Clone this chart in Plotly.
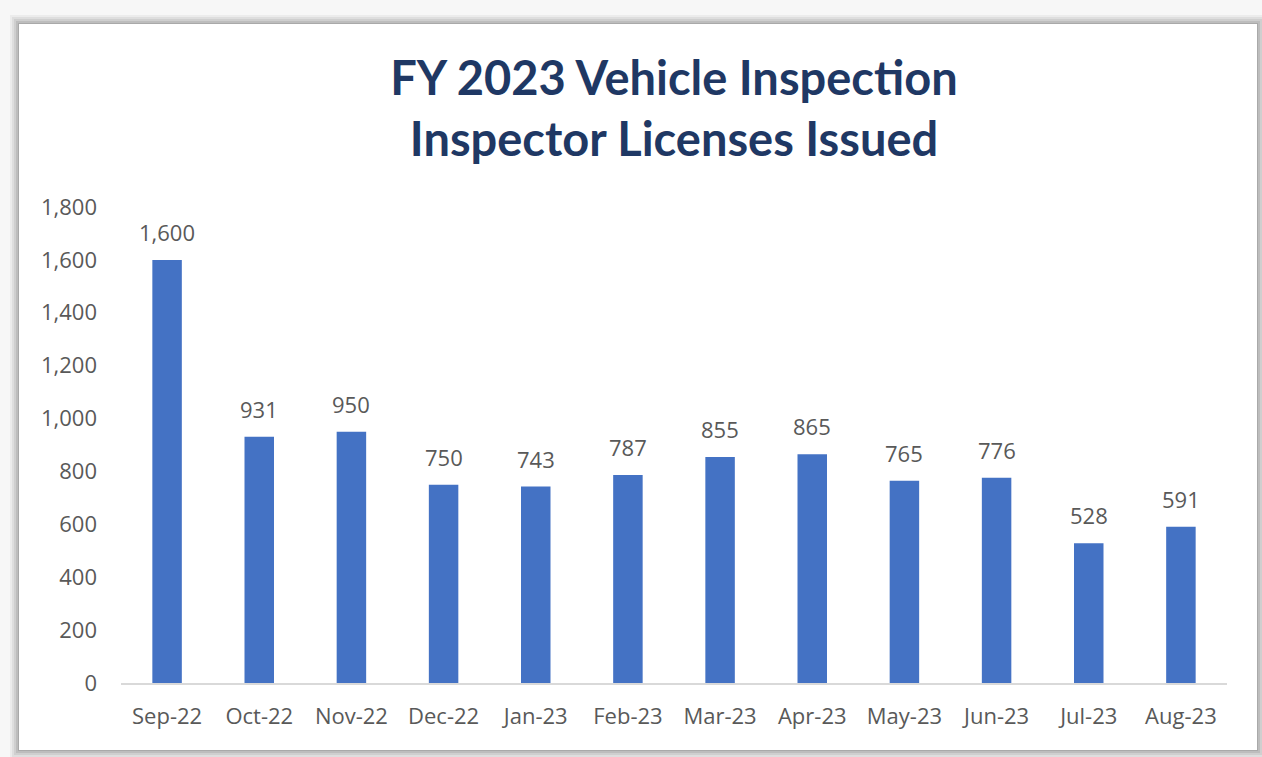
import plotly.graph_objects as go

months = ["Sep-22", "Oct-22", "Nov-22", "Dec-22", "Jan-23", "Feb-23",
          "Mar-23", "Apr-23", "May-23", "Jun-23", "Jul-23", "Aug-23"]
licenses = [1600, 931, 950, 750, 743, 787, 855, 865, 765, 776, 528, 591]
y_ticks = [0, 200, 400, 600, 800, 1000, 1200, 1400, 1600, 1800]

W, H = 1262, 757
L, R, T, B = 121, 35, 207, 74
pw, ph = W - L - R, H - T - B
FONT = "Open Sans, sans-serif"
TFONT = "Lato, Open Sans, sans-serif"


def px(x):
    return (x - L) / pw


def py(y):
    return (H - B - y) / ph


fig = go.Figure()
fig.add_trace(go.Bar(
    x=months, y=licenses,
    marker=dict(color="#4472C4", line=dict(width=0)),
    hoverinfo="x+y",
))

annotations = [
    dict(x=m, y=v, xref="x", yref="y", text=f"{v:,}", showarrow=False,
         yanchor="bottom", yshift=11,
         font=dict(family=FONT, size=22, color="#595959"))
    for m, v in zip(months, licenses)
]

shapes = []
for off, col in [(9, "#ececec"), (7, "#dedede"), (5, "#cfcfcf"), (3, "#bdbdbd"), (1, "#a9a9a9")]:
    shapes.append(dict(type="rect", xref="paper", yref="paper", layer="below",
                       x0=px(19 - off), x1=px(1257 + min(off, 5)),
                       y0=py(750 + min(off, 7)), y1=py(24 - off),
                       fillcolor=col, line=dict(width=0)))
shapes.append(dict(type="rect", xref="paper", yref="paper", layer="below",
                   x0=px(19), x1=px(1257), y0=py(750), y1=py(24),
                   fillcolor="white", line=dict(width=0)))

fig.update_layout(
    width=W, height=H,
    margin=dict(l=L, r=R, t=T, b=B, autoexpand=False),
    paper_bgcolor="#f7f7f7",
    plot_bgcolor="rgba(0,0,0,0)",
    shapes=shapes,
    annotations=annotations,
    bargap=0.68,
    showlegend=False,
    title=dict(
        text="<b>FY 2023 Vehicle Inspection<br>Inspector Licenses Issued</b>",
        x=0.5, xref="paper", xanchor="center",
        y=1 - 95 / H, yanchor="middle",
        font=dict(family=TFONT, size=47, color="#1F3864"),
    ),
    xaxis=dict(
        showline=True, linecolor="#d9d9d9", linewidth=2,
        ticks="", showgrid=False,
        tickfont=dict(family=FONT, size=22, color="#595959"),
        ticklabelstandoff=13,
    ),
    yaxis=dict(
        range=[0, 1800], tickvals=y_ticks,
        ticktext=[f"{v:,}" for v in y_ticks],
        showgrid=False, zeroline=False, showline=False, ticks="",
        tickfont=dict(family=FONT, size=22, color="#595959"),
        ticklabelstandoff=23,
    ),
)

fig.write_html("out.html", config={"displayModeBar": False},
               post_script="document.body.style.margin='0';document.body.style.overflow='hidden';")
